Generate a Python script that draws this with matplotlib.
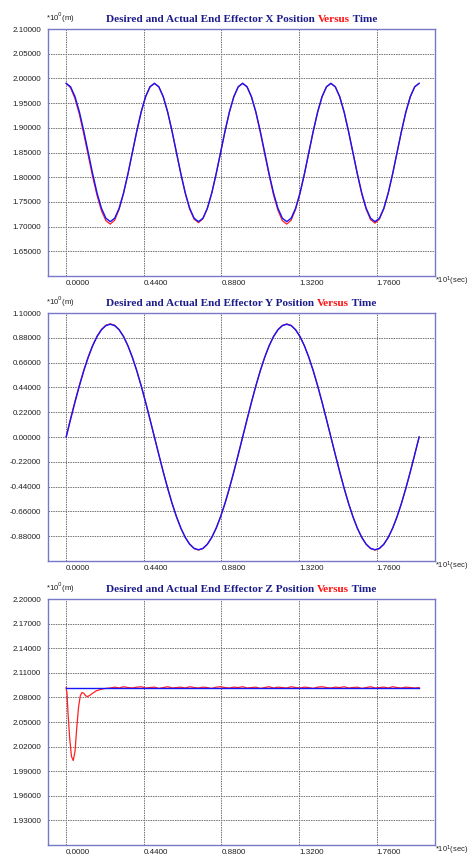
import matplotlib.pyplot as plt

# 時間軸 (x10^1 sec)
t = [0.000, 0.025, 0.050, 0.075, 0.100, 0.125, 0.150, 0.175, 0.200, 0.225,
     0.250, 0.275, 0.300, 0.325, 0.350, 0.375, 0.400, 0.425, 0.450, 0.475,
     0.500, 0.525, 0.550, 0.575, 0.600, 0.625, 0.650, 0.675, 0.700, 0.725,
     0.750, 0.775, 0.800, 0.825, 0.850, 0.875, 0.900, 0.925, 0.950, 0.975,
     1.000, 1.025, 1.050, 1.075, 1.100, 1.125, 1.150, 1.175, 1.200, 1.225,
     1.250, 1.275, 1.300, 1.325, 1.350, 1.375, 1.400, 1.425, 1.450, 1.475,
     1.500, 1.525, 1.550, 1.575, 1.600, 1.625, 1.650, 1.675, 1.700, 1.725,
     1.750, 1.775, 1.800, 1.825, 1.850, 1.875, 1.900, 1.925, 1.950, 1.975,
     2.000]

# X位置 (目標値)
x_des = [1.990, 1.983, 1.963, 1.932, 1.893, 1.850, 1.807, 1.768, 1.737, 1.717,
         1.710, 1.717, 1.737, 1.768, 1.807, 1.850, 1.893, 1.932, 1.963, 1.983,
         1.990, 1.983, 1.963, 1.932, 1.893, 1.850, 1.807, 1.768, 1.737, 1.717,
         1.710, 1.717, 1.737, 1.768, 1.807, 1.850, 1.893, 1.932, 1.963, 1.983,
         1.990, 1.983, 1.963, 1.932, 1.893, 1.850, 1.807, 1.768, 1.737, 1.717,
         1.710, 1.717, 1.737, 1.768, 1.807, 1.850, 1.893, 1.932, 1.963, 1.983,
         1.990, 1.983, 1.963, 1.932, 1.893, 1.850, 1.807, 1.768, 1.737, 1.717,
         1.710, 1.717, 1.737, 1.768, 1.807, 1.850, 1.893, 1.932, 1.963, 1.983,
         1.990]
# X位置 (実際値)
x_act = [1.990, 1.981, 1.959, 1.927, 1.887, 1.844, 1.801, 1.763, 1.732, 1.712,
         1.705, 1.713, 1.735, 1.767, 1.806, 1.850, 1.893, 1.932, 1.963, 1.983,
         1.990, 1.983, 1.963, 1.932, 1.893, 1.849, 1.806, 1.767, 1.735, 1.715,
         1.708, 1.716, 1.737, 1.768, 1.807, 1.850, 1.893, 1.932, 1.963, 1.983,
         1.990, 1.983, 1.962, 1.931, 1.891, 1.847, 1.804, 1.764, 1.733, 1.712,
         1.705, 1.713, 1.735, 1.767, 1.806, 1.850, 1.893, 1.932, 1.963, 1.983,
         1.990, 1.983, 1.963, 1.932, 1.892, 1.849, 1.806, 1.766, 1.735, 1.714,
         1.707, 1.715, 1.736, 1.768, 1.807, 1.850, 1.893, 1.932, 1.963, 1.983,
         1.990]

# Y位置 (目標値)
y_des = [0.000, 0.156, 0.309, 0.454, 0.588, 0.707, 0.809, 0.891, 0.951, 0.988,
         1.000, 0.988, 0.951, 0.891, 0.809, 0.707, 0.588, 0.454, 0.309, 0.156,
         0.000, -0.156, -0.309, -0.454, -0.588, -0.707, -0.809, -0.891, -0.951, -0.988,
         -1.000, -0.988, -0.951, -0.891, -0.809, -0.707, -0.588, -0.454, -0.309, -0.156,
         0.000, 0.156, 0.309, 0.454, 0.588, 0.707, 0.809, 0.891, 0.951, 0.988,
         1.000, 0.988, 0.951, 0.891, 0.809, 0.707, 0.588, 0.454, 0.309, 0.156,
         0.000, -0.156, -0.309, -0.454, -0.588, -0.707, -0.809, -0.891, -0.951, -0.988,
         -1.000, -0.988, -0.951, -0.891, -0.809, -0.707, -0.588, -0.454, -0.309, -0.156,
         0.000]
# Y位置 (実際値)
y_act = [0.000, 0.166, 0.318, 0.461, 0.594, 0.712, 0.813, 0.895, 0.955, 0.992,
         1.004, 0.991, 0.953, 0.892, 0.809, 0.707, 0.588, 0.454, 0.309, 0.156,
         0.000, -0.156, -0.309, -0.454, -0.588, -0.707, -0.809, -0.891, -0.952, -0.990,
         -1.003, -0.990, -0.952, -0.891, -0.809, -0.707, -0.588, -0.454, -0.309, -0.156,
         0.000, 0.156, 0.309, 0.454, 0.588, 0.707, 0.809, 0.892, 0.953, 0.990,
         1.003, 0.990, 0.952, 0.891, 0.809, 0.707, 0.588, 0.454, 0.309, 0.156,
         0.000, -0.156, -0.309, -0.454, -0.588, -0.707, -0.809, -0.891, -0.952, -0.990,
         -1.003, -0.990, -0.952, -0.891, -0.809, -0.707, -0.588, -0.454, -0.309, -0.156,
         0.000]

# Z位置 (目標値は一定)
tz_des = [0.000, 2.000]
z_des = [2.092, 2.092]
# Z位置 (実際値)
tz_act = [0.000, 0.005, 0.010, 0.020, 0.030, 0.040, 0.050, 0.060, 0.070, 0.080,
          0.090, 0.100, 0.110, 0.120, 0.130, 0.150, 0.170, 0.200, 0.225, 0.250,
          0.275, 0.300, 0.325, 0.350, 0.375, 0.400, 0.425, 0.450, 0.475, 0.500,
          0.525, 0.550, 0.575, 0.600, 0.625, 0.650, 0.675, 0.700, 0.725, 0.750,
          0.775, 0.800, 0.825, 0.850, 0.875, 0.900, 0.925, 0.950, 0.975, 1.000,
          1.025, 1.050, 1.075, 1.100, 1.125, 1.150, 1.175, 1.200, 1.225, 1.250,
          1.275, 1.300, 1.325, 1.350, 1.375, 1.400, 1.425, 1.450, 1.475, 1.500,
          1.525, 1.550, 1.575, 1.600, 1.625, 1.650, 1.675, 1.700, 1.725, 1.750,
          1.775, 1.800, 1.825, 1.850, 1.875, 1.900, 1.925, 1.950, 1.975, 2.000]
z_act = [2.092, 2.084, 2.062, 2.030, 2.008, 2.003, 2.014, 2.043, 2.068, 2.082,
         2.086, 2.085, 2.082, 2.081, 2.082, 2.085, 2.088, 2.090, 2.091, 2.0915,
         2.0925, 2.0915, 2.093, 2.092, 2.0915, 2.0925, 2.093, 2.0915, 2.092, 2.0925,
         2.091, 2.092, 2.093, 2.0915, 2.092, 2.0925, 2.0915, 2.093, 2.092, 2.0915,
         2.0925, 2.092, 2.091, 2.0925, 2.093, 2.092, 2.0915, 2.0925, 2.092, 2.093,
         2.0915, 2.092, 2.0925, 2.091, 2.092, 2.093, 2.0915, 2.0925, 2.092, 2.0915,
         2.093, 2.092, 2.0915, 2.0925, 2.092, 2.091, 2.0925, 2.093, 2.092, 2.0915,
         2.0925, 2.092, 2.093, 2.0915, 2.092, 2.0925, 2.091, 2.092, 2.093, 2.0915,
         2.092, 2.0925, 2.0915, 2.093, 2.092, 2.0915, 2.0925, 2.092, 2.0915, 2.092]

x_ticks = [0.0, 0.44, 0.88, 1.32, 1.76]
panels = [
    ("X", t, x_des, t, x_act, (1.60, 2.10),
     [1.65, 1.70, 1.75, 1.80, 1.85, 1.90, 1.95, 2.00, 2.05, 2.10]),
    ("Y", t, y_des, t, y_act, (-1.10, 1.10),
     [-0.88, -0.66, -0.44, -0.22, 0.0, 0.22, 0.44, 0.66, 0.88, 1.10]),
    ("Z", tz_des, z_des, tz_act, z_act, (1.90, 2.20),
     [1.93, 1.96, 1.99, 2.02, 2.05, 2.08, 2.11, 2.14, 2.17, 2.20]),
]

W, H = 472, 860
fig = plt.figure(figsize=(W / 100, H / 100), dpi=100)
navy = '#1c1c8a'
spine_c = '#7878c8'
tops = [29, 313, 599]        # ピクセル単位の上端
heights = [247, 248, 246]
left_px, right_px = 48, 435

for (name, td, yd, ta, ya, ylim, yticks), top, hgt in zip(panels, tops, heights):
    ax = fig.add_axes([left_px / W, 1 - (top + hgt) / H,
                       (right_px - left_px) / W, hgt / H])
    ax.plot(ta, ya, color='#ff2020', lw=0.9, zorder=3)
    ax.plot(td, yd, color='#1414ff', lw=1.0, zorder=4)
    ax.set_xlim(-0.103, 2.09)
    ax.set_ylim(*ylim)
    ax.set_xticks(x_ticks)
    ax.set_xticklabels(['%.4f' % v for v in x_ticks], ha='left')
    ax.set_yticks(yticks)
    ax.set_yticklabels(['%.5f' % v for v in yticks])
    ax.tick_params(length=0, labelsize=5.8, labelcolor='#202020')
    ax.tick_params(axis='y', pad=5)
    ax.tick_params(axis='x', pad=3)
    for lab in ax.get_xticklabels() + ax.get_yticklabels():
        lab.set_family('Liberation Sans')
    ax.grid(True, color='#707070', lw=0.7, linestyle=(0, (1.5, 1.0)))
    ax.set_axisbelow(True)
    for sp in ax.spines.values():
        sp.set_color(spine_c)
        sp.set_linewidth(1.0)

    # タイトル (Versus だけ赤)
    y0 = 1 - (top - 7) / H
    tf = dict(family='Liberation Serif', weight='bold', fontsize=8.1)
    t1 = fig.text(106 / W, y0, 'Desired and Actual End Effector %s Position ' % name,
                  color=navy, **tf)
    t2 = fig.text(0, 0, 'Versus', color='#ff1010', **tf)
    t3 = fig.text(0, 0, ' Time', color=navy, **tf)
    fig.canvas.draw()
    bb = t1.get_window_extent()
    t2.set_position(((bb.x1) / W, y0))
    fig.canvas.draw()
    bb2 = t2.get_window_extent()
    t3.set_position(((bb2.x1) / W, y0))

    # 単位ラベル
    fig.text(46 / W, 1 - (top - 4) / H, r'*10$^{0}$(m)', fontsize=5.6,
             family='Liberation Sans', color='#202020', va='bottom')
    fig.text(435 / W, 1 - (top + hgt + 12) / H, r'*10$^{1}$(sec)', fontsize=5.4,
             family='Liberation Sans', color='#202020', va='bottom')

fig.savefig('out.png', dpi=100)
